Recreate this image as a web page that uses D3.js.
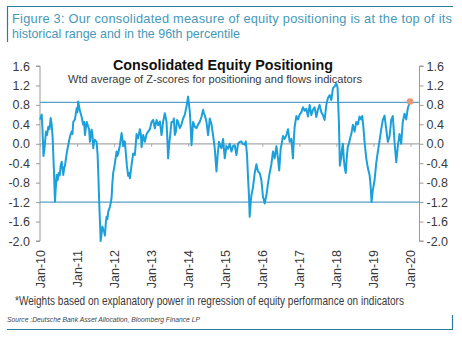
<!DOCTYPE html>
<html><head><meta charset="utf-8">
<script src="https://cdn.jsdelivr.net/npm/d3@7"></script>
<style>html,body{margin:0;padding:0;background:#fff;}svg{display:block;}</style>
</head><body>
<svg id="c" width="462" height="337"></svg>
<script>
// time in decimal years
const dates = [2010.000,2010.046,2010.067,2010.094,2010.121,2010.162,2010.189,2010.224,2010.256,2010.288,2010.315,2010.342,2010.377,2010.404,2010.426,2010.450,2010.477,2010.504,2010.531,2010.558,2010.585,2010.606,2010.628,2010.652,2010.674,2010.720,2010.763,2010.809,2010.854,2010.876,2010.898,2010.943,2010.989,2011.011,2011.032,2011.057,2011.078,2011.124,2011.167,2011.191,2011.213,2011.259,2011.302,2011.326,2011.348,2011.394,2011.415,2011.437,2011.461,2011.482,2011.528,2011.555,2011.577,2011.598,2011.623,2011.636,2011.663,2011.685,2011.706,2011.730,2011.752,2011.779,2011.798,2011.819,2011.841,2011.868,2011.887,2011.914,2011.933,2011.954,2011.976,2012.000,2012.022,2012.067,2012.089,2012.111,2012.156,2012.202,2012.224,2012.245,2012.270,2012.291,2012.318,2012.345,2012.380,2012.404,2012.426,2012.453,2012.472,2012.515,2012.561,2012.606,2012.650,2012.695,2012.722,2012.741,2012.784,2012.830,2012.876,2012.919,2012.965,2013.011,2013.054,2013.100,2013.146,2013.189,2013.235,2013.280,2013.323,2013.369,2013.415,2013.437,2013.458,2013.482,2013.504,2013.550,2013.593,2013.612,2013.639,2013.666,2013.701,2013.728,2013.774,2013.819,2013.863,2013.908,2013.954,2013.997,2014.022,2014.043,2014.070,2014.089,2014.111,2014.132,2014.178,2014.224,2014.267,2014.313,2014.358,2014.402,2014.426,2014.447,2014.493,2014.536,2014.561,2014.582,2014.628,2014.671,2014.717,2014.763,2014.798,2014.833,2014.865,2014.898,2014.941,2014.987,2015.032,2015.075,2015.121,2015.167,2015.210,2015.256,2015.302,2015.345,2015.391,2015.431,2015.480,2015.526,2015.553,2015.588,2015.615,2015.642,2015.660,2015.687,2015.706,2015.749,2015.795,2015.841,2015.863,2015.884,2015.930,2015.976,2016.019,2016.043,2016.065,2016.092,2016.111,2016.154,2016.199,2016.245,2016.288,2016.334,2016.380,2016.423,2016.456,2016.496,2016.523,2016.558,2016.604,2016.650,2016.693,2016.739,2016.784,2016.827,2016.852,2016.873,2016.919,2016.962,2017.008,2017.054,2017.097,2017.143,2017.189,2017.232,2017.278,2017.323,2017.367,2017.412,2017.458,2017.501,2017.547,2017.593,2017.636,2017.682,2017.728,2017.771,2017.817,2017.863,2017.906,2017.951,2017.997,2018.032,2018.067,2018.094,2018.127,2018.154,2018.175,2018.199,2018.226,2018.253,2018.283,2018.310,2018.337,2018.369,2018.402,2018.445,2018.491,2018.536,2018.580,2018.625,2018.671,2018.698,2018.733,2018.760,2018.806,2018.849,2018.895,2018.922,2018.949,2018.984,2019.030,2019.075,2019.119,2019.164,2019.210,2019.253,2019.299,2019.345,2019.388,2019.434,2019.480,2019.523,2019.569,2019.615,2019.658,2019.704,2019.749,2019.792,2019.838,2019.884,2019.927,2019.987];
const positioning = [0.50,0.60,0.30,-0.25,-0.10,0.25,0.18,0.35,0.30,0.53,0.40,0.11,-0.57,-1.19,-0.90,-0.64,-0.75,-0.60,-0.65,-0.45,-0.37,-0.50,-0.64,-0.50,-0.45,-0.20,-0.02,0.15,0.25,0.20,0.45,0.50,0.73,0.65,0.87,0.75,0.68,0.55,0.39,0.45,0.18,0.45,0.35,0.30,0.04,0.29,0.20,-0.09,0.05,0.08,0.04,-0.23,-0.70,-1.20,-1.70,-2.00,-1.85,-1.70,-1.77,-1.80,-1.89,-1.60,-1.50,-1.55,-1.40,-1.34,-1.29,-1.20,-1.10,-0.80,-0.60,-0.50,-0.40,-0.16,-0.25,-0.20,-0.03,0.22,0.10,-0.05,0.05,0.04,-0.20,-0.45,-0.66,-0.60,-0.71,-0.55,-0.43,-0.20,-0.23,0.20,0.11,0.30,0.20,-0.07,0.18,0.04,0.20,0.25,0.30,0.45,0.49,0.32,0.49,0.38,0.46,0.18,0.45,0.63,0.45,0.10,-0.30,-0.05,0.11,0.45,0.45,0.52,0.18,0.25,0.49,0.45,0.32,0.40,0.52,0.60,0.76,0.97,0.80,0.66,0.30,-0.03,0.20,0.45,0.35,0.32,0.40,0.45,0.55,0.70,0.62,0.59,0.45,0.18,0.35,0.52,0.40,0.18,-0.10,-0.57,-0.20,0.04,-0.05,-0.09,0.10,-0.30,-0.05,-0.10,0.00,-0.16,-0.05,-0.03,-0.23,0.00,0.04,0.05,0.00,-0.02,0.05,-0.23,-0.70,-1.10,-1.50,-1.20,-1.06,-0.90,-0.60,-0.42,-0.50,-0.57,-0.60,-0.75,-1.10,-1.15,-1.23,-1.12,-1.06,-0.81,-0.60,-0.42,-0.16,-0.30,-0.05,-0.30,-0.55,-0.10,0.00,0.16,0.10,0.18,0.30,0.04,0.10,-0.30,0.10,0.35,0.57,0.50,0.60,0.65,0.75,0.68,0.72,0.56,0.80,0.59,0.70,0.75,0.55,0.70,0.80,0.65,0.59,0.49,0.80,0.94,1.00,0.90,1.14,1.18,1.24,1.15,0.45,-0.45,-0.30,-0.10,0.00,-0.30,-0.50,-0.60,-0.25,-0.05,0.00,0.11,0.20,0.39,0.25,0.45,0.40,0.56,0.50,0.57,0.30,0.04,-0.30,-0.50,-0.64,-0.85,-1.20,-0.95,-0.75,-0.40,-0.16,0.06,0.30,0.49,0.58,0.30,0.04,0.15,0.49,0.57,0.04,-0.38,-0.05,0.20,0.00,0.45,0.62,0.50,0.73,0.87];
const bands = [0.85, -1.2];
const yTicks = [1.6,1.2,0.8,0.4,0.0,-0.4,-0.8,-1.2,-1.6,-2.0];
const xTickYears = [2010,2011,2012,2013,2014,2015,2016,2017,2018,2019,2020];
const xTickLabels = ["Jan-10","Jan-11","Jan-12","Jan-13","Jan-14","Jan-15","Jan-16","Jan-17","Jan-18","Jan-19","Jan-20"];

const svg = d3.select("#c");
const FONT = "'Liberation Sans', Arial, sans-serif";
const frame = "#2b7d9b";

// Frame lines
svg.append("line").attr("x1",7).attr("x2",453).attr("y1",6.5).attr("y2",6.5).attr("stroke",frame).attr("stroke-width",1.2);
svg.append("line").attr("x1",7.5).attr("x2",7.5).attr("y1",6).attr("y2",42).attr("stroke",frame).attr("stroke-width",1.2);
svg.append("line").attr("x1",7).attr("x2",453).attr("y1",329.5).attr("y2",329.5).attr("stroke",frame).attr("stroke-width",1.2);
svg.append("line").attr("x1",452.5).attr("x2",452.5).attr("y1",315).attr("y2",330).attr("stroke",frame).attr("stroke-width",1.2);

// Figure heading
svg.append("text").attr("x",12).attr("y",23).attr("font-family",FONT).attr("font-size",12.8)
  .attr("fill","#4599b8").attr("textLength",440).attr("lengthAdjust","spacing")
  .text("Figure 3: Our consolidated measure of equity positioning is at the top of its");
svg.append("text").attr("x",12).attr("y",37.5).attr("font-family",FONT).attr("font-size",12.8)
  .attr("fill","#4599b8").attr("textLength",228).attr("lengthAdjust","spacingAndGlyphs")
  .text("historical range and in the 96th percentile");

const L = 40, R = 419.5;
const x = d3.scaleLinear().domain([2010, 2010 + (R - L) / 37.05]).range([L, R]);
const y = d3.scaleLinear().domain([-2.0, 1.6]).range([241, 66]);
const fmt = d => d.toFixed(1);

const gL = svg.append("g").attr("transform", `translate(${L},0)`)
  .call(d3.axisLeft(y).tickValues(yTicks).tickSize(4).tickFormat(fmt));
const gR = svg.append("g").attr("transform", `translate(${R},0)`)
  .call(d3.axisRight(y).tickValues(yTicks).tickSize(4).tickFormat(fmt));
[gL, gR].forEach(g => {
  g.select(".domain").attr("stroke","#9a9a9a").attr("d", g === gL ? `M-4,${y(1.6)}H0V${y(-2.0)}H-4` : `M4,${y(1.6)}H0V${y(-2.0)}H4`);
  g.selectAll(".tick line").attr("stroke","#9a9a9a");
  g.selectAll(".tick text").attr("font-family",FONT).attr("font-size",12.5).attr("fill","#3a3a3a");
});
gL.selectAll(".tick text").attr("x",-10);
gR.selectAll(".tick text").attr("x",7);

// Zero line with x ticks
svg.append("line").attr("x1",L).attr("x2",R).attr("y1",y(0)).attr("y2",y(0)).attr("stroke","#a8a8a8").attr("stroke-width",1.3);
const gX = svg.append("g").attr("transform", `translate(0,${y(0)})`)
  .call(d3.axisBottom(x).tickValues(xTickYears).tickSize(3).tickFormat(""));
gX.select(".domain").remove();
gX.selectAll(".tick line").attr("stroke","#a8a8a8");

// Band lines
svg.selectAll("line.band").data(bands).join("line").attr("class","band")
  .attr("x1",L).attr("x2",R).attr("y1",d=>y(d)).attr("y2",d=>y(d))
  .attr("stroke","#5a9fc7").attr("stroke-width",1.3);

// X labels (rotated)
svg.selectAll("text.xl").data(xTickYears).join("text").attr("class","xl")
  .attr("transform", (d)=>`translate(${x(d)+4.5},250) rotate(-90)`)
  .attr("text-anchor","end").attr("font-family",FONT).attr("font-size",12.5).attr("fill","#3a3a3a")
  .text((d,i)=>xTickLabels[i]);

// Series
const pts = dates.map((d,i)=>[d, positioning[i]]);
svg.append("path").datum(pts)
  .attr("d", d3.line().x(d=>x(d[0])).y(d=>y(d[1])))
  .attr("fill","none").attr("stroke","#1ba0dc").attr("stroke-width",2).attr("stroke-linejoin","round");
const last = pts[pts.length-1];
svg.append("circle").attr("cx",x(last[0])).attr("cy",y(last[1])).attr("r",3.3).attr("fill","#e8987a");

// Titles
svg.append("text").attr("x",113).attr("y",70).attr("font-family",FONT).attr("font-weight","bold")
  .attr("font-size",15.5).attr("fill","#111").attr("textLength",220).attr("lengthAdjust","spacingAndGlyphs")
  .text("Consolidated Equity Positioning");
svg.append("text").attr("x",68).attr("y",82.5).attr("font-family",FONT)
  .attr("font-size",11.2).attr("fill","#3a3a3a").attr("textLength",294).attr("lengthAdjust","spacingAndGlyphs")
  .text("Wtd average of Z-scores for positioning and flows indicators");

// Footnote & source
svg.append("text").attr("x",15).attr("y",305).attr("font-family",FONT)
  .attr("font-size",11).attr("fill","#3a3a3a").attr("textLength",389).attr("lengthAdjust","spacingAndGlyphs")
  .attr("transform","translate(15,305) scale(1,1.09) translate(-15,-305)")
  .text("*Weights based on explanatory power in regression of equity performance on indicators");
svg.append("text").attr("x",7).attr("y",322).attr("font-family",FONT).attr("font-style","italic")
  .attr("font-size",6.8).attr("fill","#444").attr("textLength",193).attr("lengthAdjust","spacingAndGlyphs")
  .text("Source :Deutsche Bank Asset Allocation, Bloomberg Finance LP");
</script>
</body></html>
